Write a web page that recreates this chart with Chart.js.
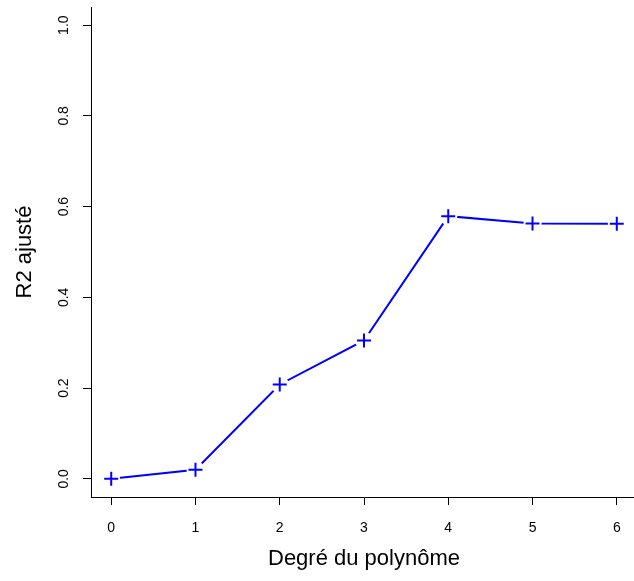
<!DOCTYPE html>
<html><head><meta charset="utf-8">
<style>html,body{margin:0;padding:0;overflow:hidden;background:#fff}#wrap{width:640px;height:581px}</style>
<script src="https://cdn.jsdelivr.net/npm/chart.js@4/dist/chart.umd.min.js"></script>
</head><body><div id="wrap"><canvas id="c" width="640" height="581"></canvas></div>
<script>
const degrees = [0, 1, 2, 3, 4, 5, 6];
const r2adj = [0, 0.020, 0.208, 0.305, 0.579, 0.563, 0.562];
const xTicks = [0, 1, 2, 3, 4, 5, 6];
const yTicks = [0, 0.2, 0.4, 0.6, 0.8, 1.0];
const xTitle = 'Degré du polynôme';
const yTitle = 'R2 ajusté';

const pts = degrees.map((d, i) => ({x: d, y: r2adj[i]}));
const BLUE = '#0000ff';
const FONT = 'Liberation Sans, Arial, Helvetica, sans-serif';
const noPad = s => { s.paddingTop = 0; s.paddingBottom = 0; s.paddingLeft = 0; s.paddingRight = 0; };

new Chart(document.getElementById('c'), {
  type: 'scatter',
  data: { datasets: [
    { data: pts, showLine: true, borderColor: BLUE, borderWidth: 2, pointRadius: 0, order: 3, clip: false },
    { data: pts, showLine: false, pointStyle: 'circle', pointRadius: 9, pointBackgroundColor: '#fff', pointBorderWidth: 0, pointBorderColor: '#fff', order: 2, clip: false },
    { data: pts, showLine: false, pointStyle: 'cross', pointRadius: 7, pointBorderColor: BLUE, pointBorderWidth: 2, order: 1, clip: false }
  ]},
  options: {
    responsive: false, animation: false, devicePixelRatio: 1,
    layout: { autoPadding: false, padding: { left: 0, right: 3, top: 7, bottom: 0 } },
    plugins: { legend: { display: false }, tooltip: { enabled: false } },
    scales: {
      x: {
        type: 'linear', min: -0.24, max: 6.24,
        afterBuildTicks: s => { s.ticks = xTicks.map(v => ({value: v})); },
        afterFit: s => { s.height = 84; noPad(s); },
        border: { display: true, color: '#000', width: 1 },
        grid: { display: true, drawOnChartArea: false, drawTicks: true, tickLength: 8, color: '#000', tickColor: '#000' },
        ticks: { color: '#000', font: { family: FONT, size: 14 }, padding: 15, maxRotation: 0, callback: v => String(v) },
        title: { display: true, text: xTitle, color: '#000', font: { family: FONT, size: 22 }, padding: { top: 0, bottom: 9 } }
      },
      y: {
        type: 'linear', min: -0.04, max: 1.04,
        afterBuildTicks: s => { s.ticks = yTicks.map(v => ({value: v})); },
        afterFit: s => { s.width = 91; noPad(s); },
        border: { display: true, color: '#000', width: 1 },
        grid: { display: true, drawOnChartArea: false, drawTicks: true, tickLength: 8, color: '#000', tickColor: '#000' },
        ticks: { color: '#000', font: { family: FONT, size: 14 }, padding: 9, minRotation: 90, maxRotation: 90, crossAlign: 'center', callback: v => v.toFixed(1) },
        title: { display: true, text: yTitle, color: '#000', font: { family: FONT, size: 22 }, padding: { top: 12, bottom: 0 } }
      }
    }
  }
});
</script></body></html>
